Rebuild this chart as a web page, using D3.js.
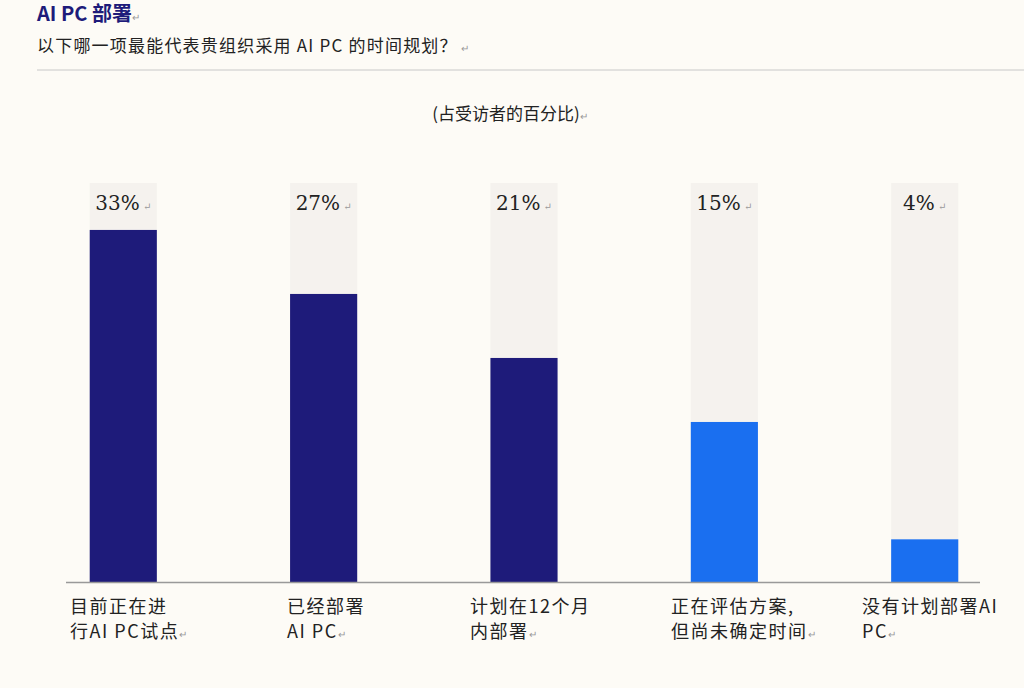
<!DOCTYPE html>
<html><head><meta charset="utf-8">
<script src="https://cdn.jsdelivr.net/npm/d3@7/dist/d3.min.js"></script>
<style>body{margin:0;background:#fdfbf6;}svg{display:block;font-family:"Noto Sans CJK SC",sans-serif;}</style>
</head><body><svg id="c" width="1024" height="688"></svg>
<script>
const categories = ["目前正在进行AI PC试点","已经部署AI PC","计划在12个月内部署","正在评估方案，但尚未确定时间","没有计划部署AI PC"];
const labelLines = [["目前正在进","行AI PC试点"],["已经部署","AI PC"],["计划在12个月","内部署"],["正在评估方案,","但尚未确定时间"],["没有计划部署AI","PC"]];
const values = [33,27,21,15,4];
const colors = ["#1e1b7a","#1e1b7a","#1e1b7a","#1a6ff0","#1a6ff0"];
const labelX = [70,287,470,671,862];

const svg = d3.select("#c");
svg.append("rect").attr("width",1024).attr("height",688).attr("fill","#fdfbf6");
svg.append("text").attr("x",37).attr("y",21).attr("font-size",20).attr("font-weight","bold").attr("fill","#1e1b7a").text("AI PC 部署").append("tspan").attr("font-size",10).attr("fill","#999").attr("font-weight","normal").text("↵");
svg.append("text").attr("x",37).attr("y",52).attr("font-size",17).attr("letter-spacing",1.2).attr("fill","#222").text("以下哪一项最能代表贵组织采用 AI PC 的时间规划？").append("tspan").attr("font-size",10).attr("fill","#999").text(" ↵");
svg.append("line").attr("x1",37).attr("x2",1024).attr("y1",70).attr("y2",70).attr("stroke","#c8c8c8");
svg.append("text").attr("x",510).attr("y",120).attr("text-anchor","middle").attr("font-size",17).attr("fill","#222").text("(占受访者的百分比)").append("tspan").attr("font-size",10).attr("fill","#999").text("↵");

const x = d3.scaleBand().domain(categories).range([23,1025]).paddingInner(0.665).paddingOuter(0.333);
const y = d3.scaleLinear().domain([0,37.4]).range([582,183]);

svg.selectAll(".bg").data(categories).join("rect").attr("x",d=>x(d)).attr("width",x.bandwidth())
  .attr("y",y(37.4)).attr("height",y(0)-y(37.4)).attr("fill","#f5f2ee");
svg.selectAll(".bar").data(values).join("rect").attr("x",(d,i)=>x(categories[i])).attr("width",x.bandwidth())
  .attr("y",d=>y(d)).attr("height",d=>y(0)-y(d)).attr("fill",(d,i)=>colors[i]);
svg.selectAll(".val").data(values).join("text").attr("x",(d,i)=>x(categories[i])+x.bandwidth()/2).attr("y",210)
  .attr("text-anchor","middle").attr("font-size",20).attr("fill","#222").attr("font-family","'DejaVu Serif',serif")
  .text(d=>d+"%").append("tspan").attr("font-size",10).attr("fill","#999").text(" ↵");
svg.append("line").attr("x1",66).attr("x2",980).attr("y1",582.5).attr("y2",582.5).attr("stroke","#999").attr("stroke-width",1.5);
labelLines.forEach((ls,i)=>{
  ls.forEach((l,j)=>{
    const t = svg.append("text").attr("x",labelX[i]).attr("y",613+j*25).attr("font-size",18).attr("letter-spacing",1.5).attr("fill","#222").text(l);
    if(j===ls.length-1) t.append("tspan").attr("font-size",10).attr("fill","#999").text("↵");
  });
});
</script></body></html>
